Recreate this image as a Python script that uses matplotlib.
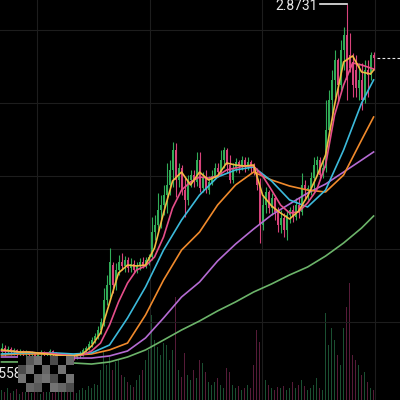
import numpy as np
import matplotlib.pyplot as plt

# candles (price)
opens = [0.553, 0.580, 0.560, 0.573, 0.553, 0.567, 0.547, 0.560, 0.540, 0.553,
         0.533, 0.547, 0.527, 0.540, 0.553, 0.533, 0.547, 0.560, 0.540, 0.527,
         0.540, 0.520, 0.533, 0.513, 0.527, 0.520, 0.533, 0.547, 0.567, 0.580,
         0.607, 0.633, 0.660, 0.700, 0.753, 0.900, 1.000, 1.133, 1.000, 1.100,
         1.153, 1.127, 1.167, 1.113, 1.140, 1.100, 1.127, 1.153, 1.133, 1.167,
         1.187, 1.353, 1.400, 1.500, 1.533, 1.600, 1.667, 1.767, 1.900, 1.700,
         1.780, 1.633, 1.567, 1.700, 1.733, 1.687, 1.833, 1.647, 1.713, 1.633,
         1.687, 1.727, 1.780, 1.753, 1.833, 1.900, 1.800, 1.700, 1.780, 1.820,
         1.793, 1.833, 1.800, 1.820, 1.780, 1.753, 1.667, 1.400, 1.533, 1.620,
         1.513, 1.580, 1.487, 1.400, 1.447, 1.367, 1.467, 1.500, 1.453, 1.533,
         1.487, 1.667, 1.633, 1.647, 1.713, 1.800, 1.833, 1.733, 1.780, 2.033,
         2.233, 2.367, 2.500, 2.333, 2.567, 2.667, 2.533, 2.487, 2.433, 2.313,
         2.367, 2.233, 2.433, 2.400, 2.533]
closes = [0.580, 0.560, 0.573, 0.553, 0.567, 0.547, 0.560, 0.540, 0.553, 0.533,
          0.547, 0.527, 0.540, 0.553, 0.533, 0.547, 0.560, 0.540, 0.527, 0.540,
          0.520, 0.533, 0.513, 0.527, 0.520, 0.533, 0.547, 0.567, 0.580, 0.607,
          0.633, 0.660, 0.700, 0.753, 0.900, 1.000, 1.153, 1.000, 1.100, 1.153,
          1.127, 1.167, 1.113, 1.140, 1.100, 1.127, 1.153, 1.133, 1.167, 1.187,
          1.353, 1.400, 1.500, 1.533, 1.600, 1.667, 1.767, 1.900, 1.700, 1.780,
          1.633, 1.567, 1.700, 1.733, 1.687, 1.833, 1.647, 1.713, 1.633, 1.687,
          1.727, 1.780, 1.753, 1.833, 1.900, 1.800, 1.700, 1.780, 1.820, 1.793,
          1.833, 1.800, 1.820, 1.780, 1.753, 1.667, 1.400, 1.533, 1.620, 1.513,
          1.580, 1.487, 1.400, 1.447, 1.367, 1.467, 1.500, 1.453, 1.533, 1.487,
          1.667, 1.633, 1.647, 1.713, 1.800, 1.833, 1.733, 1.780, 2.033, 2.233,
          2.367, 2.500, 2.333, 2.567, 2.667, 2.367, 2.447, 2.333, 2.313, 2.367,
          2.233, 2.433, 2.400, 2.533, 2.513]
highs = [0.613, 0.600, 0.593, 0.587, 0.580, 0.573, 0.573, 0.567, 0.567, 0.560,
         0.560, 0.553, 0.553, 0.567, 0.560, 0.553, 0.573, 0.567, 0.553, 0.547,
         0.547, 0.547, 0.540, 0.540, 0.540, 0.547, 0.560, 0.580, 0.593, 0.627,
         0.653, 0.680, 0.727, 0.780, 0.980, 1.067, 1.247, 1.153, 1.147, 1.200,
         1.213, 1.193, 1.187, 1.180, 1.167, 1.153, 1.180, 1.187, 1.187, 1.207,
         1.453, 1.467, 1.613, 1.600, 1.667, 1.813, 1.833, 1.953, 1.947, 1.813,
         1.800, 1.713, 1.733, 1.767, 1.767, 1.887, 1.887, 1.753, 1.767, 1.727,
         1.767, 1.813, 1.813, 1.900, 1.920, 1.913, 1.867, 1.813, 1.847, 1.833,
         1.860, 1.853, 1.853, 1.833, 1.813, 1.780, 1.713, 1.600, 1.653, 1.633,
         1.613, 1.600, 1.520, 1.500, 1.480, 1.500, 1.520, 1.533, 1.580, 1.587,
         1.747, 1.700, 1.667, 1.753, 1.853, 1.860, 1.853, 1.833, 2.233, 2.300,
         2.433, 2.567, 2.513, 2.633, 2.720, 2.8731, 2.680, 2.547, 2.533, 2.480,
         2.480, 2.500, 2.500, 2.553, 2.553]
lows = [0.533, 0.527, 0.540, 0.533, 0.533, 0.527, 0.527, 0.520, 0.520, 0.513,
        0.513, 0.513, 0.507, 0.520, 0.520, 0.513, 0.527, 0.527, 0.507, 0.507,
        0.500, 0.500, 0.4558, 0.487, 0.500, 0.507, 0.513, 0.527, 0.547, 0.567,
        0.587, 0.613, 0.640, 0.673, 0.727, 0.867, 0.920, 0.947, 0.967, 1.067,
        1.100, 1.087, 1.087, 1.087, 1.080, 1.080, 1.100, 1.113, 1.113, 1.133,
        1.167, 1.300, 1.367, 1.380, 1.467, 1.480, 1.600, 1.653, 1.587, 1.653,
        1.600, 1.453, 1.533, 1.653, 1.653, 1.660, 1.620, 1.620, 1.613, 1.607,
        1.667, 1.713, 1.720, 1.733, 1.780, 1.747, 1.680, 1.680, 1.753, 1.747,
        1.767, 1.753, 1.767, 1.747, 1.733, 1.633, 1.280, 1.367, 1.480, 1.480,
        1.467, 1.433, 1.353, 1.347, 1.320, 1.300, 1.413, 1.420, 1.433, 1.447,
        1.467, 1.567, 1.567, 1.600, 1.613, 1.733, 1.700, 1.713, 1.753, 2.000,
        2.100, 2.253, 2.213, 2.300, 2.433, 2.233, 2.420, 2.253, 2.253, 2.233,
        2.167, 2.213, 2.253, 2.367, 2.433]
# volume (K)
volumes = [10, 8, 12, 7, 9, 11, 6, 9, 12, 8, 7, 10, 9, 6, 8, 11, 9, 7, 10, 8,
           12, 9, 14, 8, 9, 7, 10, 12, 10, 14, 12, 16, 15, 30, 48, 35, 43, 30, 38, 40,
           25, 23, 18, 15, 13, 20, 25, 30, 40, 50, 85, 60, 53, 45, 57, 55, 40, 50, 103, 30,
           23, 47, 25, 20, 30, 22, 40, 37, 28, 18, 15, 18, 22, 15, 12, 32, 28, 15, 12, 14,
           10, 12, 15, 12, 35, 70, 58, 33, 20, 15, 12, 10, 13, 12, 14, 10, 12, 18, 12, 15,
           20, 14, 10, 12, 15, 22, 12, 10, 87, 55, 72, 60, 45, 35, 72, 93, 117, 45, 40, 35,
           25, 28, 18, 12, 10]

# moving averages: fast ones every 3rd candle, slow ones every 6th
ma5 = [0.567, 0.560, 0.553, 0.553, 0.547, 0.540, 0.533, 0.527, 0.527, 0.540,
       0.593, 0.680, 0.880, 1.080, 1.133, 1.127, 1.133, 1.247, 1.480, 1.693,
       1.753, 1.667, 1.753, 1.700, 1.727, 1.813, 1.800, 1.793, 1.800, 1.600,
       1.527, 1.480, 1.440, 1.493, 1.593, 1.720, 1.867, 2.200, 2.487, 2.527,
       2.420, 2.407, 2.433]
ma10 = [0.560, 0.560, 0.553, 0.553, 0.547, 0.547, 0.540, 0.533, 0.527, 0.533,
        0.560, 0.613, 0.733, 0.887, 1.013, 1.100, 1.127, 1.187, 1.320, 1.513,
        1.633, 1.687, 1.720, 1.713, 1.727, 1.767, 1.780, 1.793, 1.793, 1.727,
        1.633, 1.533, 1.480, 1.487, 1.547, 1.633, 1.800, 2.133, 2.333, 2.480,
        2.467, 2.447, 2.440]
ma20 = [0.540, 0.547, 0.547, 0.547, 0.540, 0.547, 0.600, 0.780, 0.987, 1.233, 1.433,
        1.600, 1.720, 1.767, 1.787, 1.693, 1.567, 1.520, 1.633, 1.900, 2.213, 2.367]
ma30 = [0.533, 0.540, 0.540, 0.540, 0.533, 0.540, 0.567, 0.613, 0.800, 1.033, 1.233,
        1.353, 1.533, 1.667, 1.753, 1.700, 1.660, 1.633, 1.620, 1.733, 1.967, 2.120]
ma60 = [0.520, 0.520, 0.520, 0.520, 0.513, 0.513, 0.527, 0.560, 0.647, 0.780, 0.920,
        1.020, 1.160, 1.273, 1.373, 1.467, 1.540, 1.613, 1.673, 1.753, 1.833, 1.887]
ma120 = [0.487, 0.487, 0.487, 0.487, 0.480, 0.473, 0.487, 0.520, 0.567, 0.633, 0.700,
         0.760, 0.827, 0.887, 0.953, 1.007, 1.067, 1.120, 1.193, 1.280, 1.380, 1.460]

UP = '#31ad58'
DOWN = '#d8437b'
UP_VOL = '#1a4f31'
DOWN_VOL = '#561b38'
GRID = '#1d1d1d'

n = len(closes)
idx = np.arange(n)
o = np.array(opens)
c = np.array(closes)
up = c >= o
cols = [UP if u else DOWN for u in up]

fig = plt.figure(figsize=(4, 4), dpi=100, facecolor='black')

# volume lives underneath the price panel
vax = fig.add_axes([0, 0, 1, 1])
vax.set_facecolor('black')
vax.bar(idx, volumes, width=0.5, color=[UP_VOL if u else DOWN_VOL for u in up])
vax.set_ylim(0, 400)
vax.set_xlim(-0.5, 132.8)
vax.set_xticks([11.8, 49.5, 86.8, 124.5])
vax.set_yticks([])
vax.grid(axis='x', color=GRID, lw=0.8)
vax.tick_params(length=0, labelbottom=False)
for s in vax.spines.values():
    s.set_visible(False)

ax = fig.add_axes([0, 0, 1, 1])
ax.patch.set_visible(False)
ax.set_xlim(-0.5, 132.8)
ax.set_ylim(0.2333, 2.9)
ax.set_yticks([2.7, 2.213, 1.727, 1.24, 0.753])
ax.set_xticks([])
ax.grid(axis='y', color=GRID, lw=0.8)
ax.tick_params(length=0, labelleft=False, labelbottom=False)
for s in ax.spines.values():
    s.set_visible(False)

# candles
ax.vlines(idx, lows, highs, colors=cols, lw=0.8, zorder=2)
body = np.where(np.abs(c - o) < 0.004, 0.004, c - o)
ax.bar(idx, body, bottom=o, width=0.62, color=cols, zorder=2)

# moving averages
fast_x = list(range(0, n - 1, 3)) + [n - 1]
slow_x = list(range(0, n - 1, 6)) + [n - 1]
ax.plot(slow_x, ma120, color='#6cb46a', lw=1.2, zorder=3)
ax.plot(slow_x, ma60, color='#b56bd3', lw=1.2, zorder=3)
ax.plot(slow_x, ma30, color='#f08a2c', lw=1.2, zorder=3)
ax.plot(slow_x, ma20, color='#3cbadb', lw=1.2, zorder=3)
ax.plot(fast_x, ma10, color='#e64e8a', lw=1.2, zorder=3)
ax.plot(fast_x, ma5, color='#f3b843', lw=1.2, zorder=3)

# max / min markers
imax = int(np.argmax(highs))
ax.plot([imax - 9, imax], [highs[imax], highs[imax]], color='#e8e8e8', lw=1.2, zorder=4)
ax.annotate(f'{highs[imax]:.4f}', (imax - 9.5, highs[imax]), xytext=(0, -1.5),
            textcoords='offset points', color='#e8e8e8', fontsize=10,
            family='Roboto', ha='right', va='center', zorder=4)
imin = int(np.argmin(lows))
ax.text(6.8, lows[imin], f'{lows[imin]:.4f}', color='#e8e8e8', fontsize=10,
        family='Roboto', ha='right', va='top', zorder=4)

# last price
ax.hlines(closes[-1], n + 0.3, 133, colors='#e8e8e8', linestyles=(0, (2.5, 2)), lw=0.8)

# pixelated patch over the bottom-left corner
mosaic = np.array([[0.0, 0.35, 0.45, 0.0, 0.3, 0.0, 0.42],
                   [0.3, 0.45, 0.0, 0.4, 0.0, 0.45, 0.0],
                   [0.45, 0.0, 0.4, 0.45, 0.3, 0.0, 0.45],
                   [0.0, 0.4, 0.35, 0.0, 0.45, 0.4, 0.3]])
max_ = fig.add_axes([18 / 400, 8 / 400, 56 / 400, 36 / 400])
max_.imshow(mosaic, cmap='gray', vmin=0, vmax=1, interpolation='nearest', aspect='auto')
max_.axis('off')

fig.savefig('out.png', dpi=100, facecolor='black')
